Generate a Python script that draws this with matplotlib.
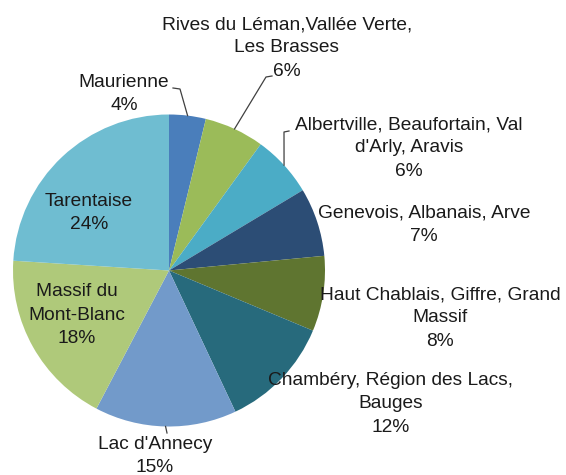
import numpy as np
import matplotlib.pyplot as plt

plt.rcParams['font.family'] = ['Liberation Sans', 'DejaVu Sans']

regions = ["Maurienne", "Rives du Léman,Vallée Verte,\nLes Brasses",
           "Albertville, Beaufortain, Val\nd'Arly, Aravis",
           "Genevois, Albanais, Arve", "Haut Chablais, Giffre, Grand\nMassif",
           "Chambéry, Région des Lacs,\nBauges", "Lac d'Annecy",
           "Massif du\nMont-Blanc", "Tarentaise"]
shares = [3.8, 6.2, 6.4, 7.1, 7.8, 11.7, 14.7, 18.3, 24.0]
colors = ["#4a7ebb", "#9bbb59", "#4bacc6", "#2c4d75", "#5f7530",
          "#276a7c", "#729aca", "#afc97a", "#6fbdd1"]

W, H = 566, 475
# label centres in pixel coords (y from top)
label_pos = [(124, 94), (287, 48), (409, 148), (424, 225), (440, 318),
             (391, 404), (155, 456), (77, 315), (89, 213)]
# leader line elbows (pixel coords)
leaders = {0: [(180, 89), (173, 88)],
           1: [(266, 77), (272, 76)],
           2: [(284, 132), (289, 131)],
           6: [(167, 433)]}

fig = plt.figure(figsize=(W / 100, H / 100), dpi=100)
ax = fig.add_axes([0, 0, 1, 1])
cx, cy, r = 169, 270.5, 156
wedges, _ = ax.pie(shares, colors=colors, startangle=90, counterclock=False,
                   center=(cx, H - cy), radius=r,
                   wedgeprops=dict(linewidth=0))
ax.set_xlim(0, W)
ax.set_ylim(0, H)
ax.axis('off')

for i, (name, val) in enumerate(zip(regions, shares)):
    x, y = label_pos[i]
    ax.text(x, H - y, f"{name}\n{round(val)}%", ha='center', va='center',
            fontsize=13.8, color='#1a1a1a', linespacing=1.5)
    if i in leaders:
        w = wedges[i]
        mid = np.deg2rad((w.theta1 + w.theta2) / 2)
        pts = [(cx + r * np.cos(mid), H - cy + r * np.sin(mid))]
        pts += [(px, H - py) for px, py in leaders[i]]
        xs, ys = zip(*pts)
        ax.plot(xs, ys, color='#404040', lw=0.9)

fig.savefig("out.png", dpi=100)
